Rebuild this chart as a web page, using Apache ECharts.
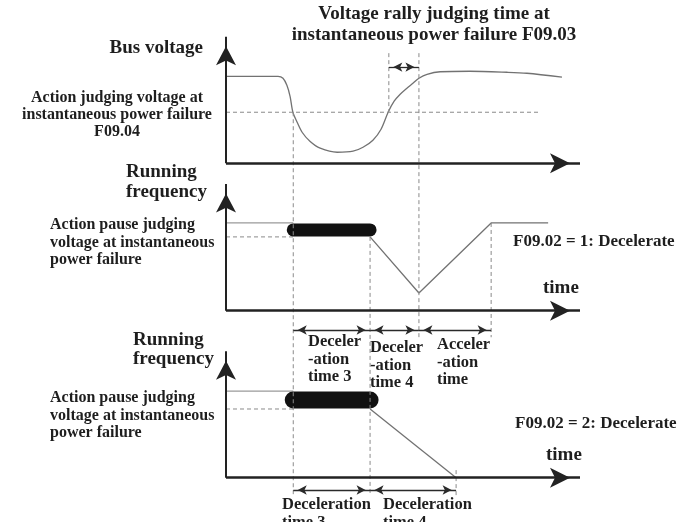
<!DOCTYPE html>
<html>
<head>
<meta charset="utf-8">
<script src="https://cdn.jsdelivr.net/npm/echarts@6/dist/echarts.min.js"></script>
<style>
  html, body { margin: 0; padding: 0; background: #fff; }
  #chart { width: 691px; height: 522px; }
</style>
</head>
<body>
<div id="chart"></div>
<script>
// ---- Timing of the events (time units along each time axis) ----
const T_FAIL = 1.9;       // bus voltage falls through the action threshold
const T_DEC = 4.07;       // pause ends, deceleration starts
const T_RALLY = 4.6;      // bus voltage climbs back through the threshold
const T_CONFIRM = 5.45;   // rally judging time F09.03 has elapsed
const T_STOP = 6.5;       // mode 2: deceleration reaches zero
const T_ACC_END = 7.49;   // mode 1: back at running frequency

// ---- Panel 1: bus voltage ----
const busTime    = [0, 1.47, 1.61, 1.72, 1.81, 1.89, 2.01, 2.15, 2.37, 2.66, 3.14, 3.59, 3.87, 4.15, 4.38, 4.58, 4.75, 4.92, 5.11, 5.28, 5.45, 5.68, 6.05, 6.89, 7.94, 8.5, 9.49];
const busVoltage = [6.87, 6.87, 6.72, 6.16, 5.29, 4.03, 3.24, 2.45, 1.74, 1.19, 0.87, 0.95, 1.26, 1.82, 2.69, 4.03, 4.9, 5.45, 5.93, 6.32, 6.72, 7.03, 7.23, 7.27, 7.19, 7.11, 6.8];
const actionVoltage = 4.03;      // F09.04
const actionLineEnd = 8.87;

// ---- Panel 2: F09.02 = 1 (decelerate, then accelerate back) ----
const mode1Time  = [T_DEC, T_CONFIRM, T_ACC_END, 9.1];
const mode1Freq  = [5.83, 1.4, 6.93, 6.93];
const mode1Run   = 6.93;
const mode1Pause = 5.83;

// ---- Panel 3: F09.02 = 2 (decelerate to stop) ----
const mode2Time  = [T_DEC, T_STOP];
const mode2Freq  = [5.43, 0];
const mode2Run   = 6.85;
const mode2Pause = 5.43;

// Baselines of the three panels on the shared vertical scale
const BASE = [24.85, 13.2, 0];
const AXIS_LEN_T = 10;
const AXIS_LEN_V = 10;

// Text blocks: [lines, x, y, lineHeight, align, fontSize]
const texts = [
  [["Voltage rally judging time at", "instantaneous power failure F09.03"], 434, 14, 21, 'center', 19],
  [["Bus voltage"], 203, 48, 20, 'right', 19],
  [["Action judging voltage at", "instantaneous power failure", "F09.04"], 117, 98, 17, 'center', 16],
  [["Running", "frequency"], 126, 172, 20, 'left', 19],
  [["Action pause judging", "voltage at instantaneous", "power failure"], 50, 225, 17.5, 'left', 16],
  [["F09.02 = 1: Decelerate"], 513, 242, 18, 'left', 17],
  [["time"], 543, 288, 18, 'left', 19],
  [["Deceler", "-ation", "time 3"], 308, 342, 17.5, 'left', 16.5],
  [["Deceler", "-ation", "time 4"], 370, 348, 17.5, 'left', 16.5],
  [["Acceler", "-ation", "time"], 437, 345, 17.5, 'left', 16.5],
  [["Running", "frequency"], 133, 340, 19, 'left', 19],
  [["Action pause judging", "voltage at instantaneous", "power failure"], 50, 398, 17.5, 'left', 16],
  [["F09.02 = 2: Decelerate"], 515, 424, 18, 'left', 17],
  [["time"], 546, 455, 18, 'left', 19],
  [["Deceleration", "time 3"], 282, 505, 18, 'left', 16.5],
  [["Deceleration", "time 4"], 383, 505, 18, 'left', 16.5]
];

const INK = '#1e1e1e';
const CURVE = '#727272';
const GUIDE = '#8a8a8a';
const FONT = '"Liberation Serif", "Times New Roman", serif';

function pts(ts, vs, base) { return ts.map((t, i) => [t, base + vs[i]]); }

function plain(data, color, width, dashed, extra) {
  return Object.assign({
    type: 'line', data: data, symbol: 'none', silent: true, animation: false,
    lineStyle: { color: color, width: width, type: dashed ? [4, 3] : 'solid' }
  }, extra || {});
}

const series = [];

// bus voltage curve and action threshold
series.push(plain(pts(busTime, busVoltage, BASE[0]), CURVE, 1.3, false, { smooth: 0.3 }));
series.push(plain([[0, BASE[0] + actionVoltage], [actionLineEnd, BASE[0] + actionVoltage]], GUIDE, 1, true));

// running / pause reference levels before the failure
[[BASE[1], mode1Run, mode1Pause, 13], [BASE[2], mode2Run, mode2Pause, 17]].forEach(([b, run, pause, w]) => {
  series.push(plain([[0, b + run], [T_FAIL, b + run]], '#9a9a9a', 1.2, false));
  series.push(plain([[0, b + pause], [T_FAIL, b + pause]], GUIDE, 1, true));
  // pause interval: frequency held
  series.push({
    type: 'line', symbol: 'none', silent: true, animation: false,
    data: [[T_FAIL, b + (run + pause) / 2], [T_DEC, b + (run + pause) / 2]],
    lineStyle: { color: '#111', width: w, cap: 'round' }
  });
});

// frequency profiles
series.push(plain(pts(mode1Time, mode1Freq, BASE[1]), CURVE, 1.3, false));
series.push(plain(pts(mode2Time, mode2Freq, BASE[2]), CURVE, 1.3, false));

// dashed event markers
const markers = [
  [T_FAIL, BASE[0] + actionVoltage, BASE[2] - 1.3],
  [T_RALLY, BASE[0] + 8.7, BASE[0] + actionVoltage],
  [T_CONFIRM, BASE[0] + 8.7, BASE[1] - 2.1],
  [T_DEC, BASE[1] + mode1Pause, BASE[2] - 1.2],
  [T_ACC_END, BASE[1] + mode1Run, BASE[1] - 2.1],
  [T_STOP, BASE[2] + 0.6, BASE[2] - 1.5]
];
markers.forEach(([t, y0, y1]) => series.push(plain([[t, y0], [t, y1]], GUIDE, 1, true)));

// axes with arrow heads and dimension arrows
function arrowLine(p0, p1, opt) {
  return [
    { coord: p0, symbol: opt.both ? 'arrow' : 'none', symbolSize: opt.size, symbolOffset: [0, opt.size[1] / 2],
      lineStyle: { color: opt.color, width: opt.width, type: 'solid' } },
    { coord: p1, symbol: 'arrow', symbolSize: opt.size, symbolOffset: [0, opt.size[1] / 2] }
  ];
}
const arrowData = [];
BASE.forEach(b => {
  arrowData.push(arrowLine([0, b], [AXIS_LEN_T, b], { size: [15, 20], color: '#222', width: 2.5 }));
  arrowData.push(arrowLine([0, b], [0, b + AXIS_LEN_V], { size: [15, 19], color: '#222', width: 2 }));
});
const dim = { both: true, size: [7, 9], color: '#2a2a2a', width: 1.3 };
const dimSpans = [
  [T_RALLY, T_CONFIRM, BASE[0] + 7.6],
  [T_FAIL, T_DEC, BASE[1] - 1.53],
  [T_DEC, T_CONFIRM, BASE[1] - 1.53],
  [T_CONFIRM, T_ACC_END, BASE[1] - 1.53],
  [T_FAIL, T_DEC, BASE[2] - 0.97],
  [T_DEC, T_STOP, BASE[2] - 0.97]
];
dimSpans.forEach(([a, c, y]) => arrowData.push(arrowLine([a, y], [c, y], dim)));

series.push({
  type: 'line', data: [[0, 0]], symbol: 'none', silent: true, animation: false,
  lineStyle: { width: 0 },
  markLine: { silent: true, animation: false, label: { show: false }, data: arrowData }
});

// text blocks
const graphic = [];
texts.forEach(([lines, x, y, lh, align, size]) => {
  lines.forEach((s, i) => graphic.push({
    type: 'text', x: x, y: y + i * lh, silent: true,
    style: { text: s, font: 'bold ' + size + 'px ' + FONT, fill: INK, align: align, verticalAlign: 'middle' }
  }));
});

const chart = echarts.init(document.getElementById('chart'));
chart.setOption({
  animation: false,
  backgroundColor: '#fff',
  grid: { left: 226, right: 111, top: 0, bottom: 0 },
  xAxis: { type: 'value', min: 0, max: 10, show: false },
  yAxis: { type: 'value', min: -3.5, max: 37.75, show: false },
  series: series,
  graphic: graphic
});
</script>
</body>
</html>
